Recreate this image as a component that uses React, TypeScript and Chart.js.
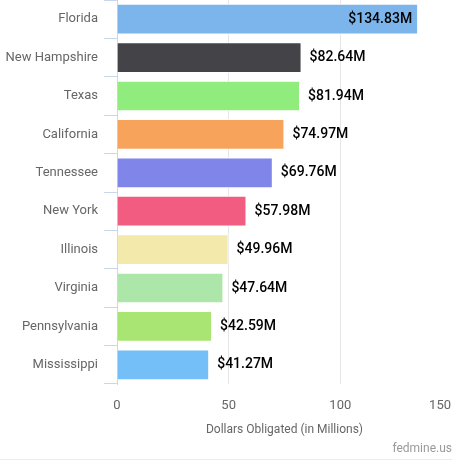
import React, { useEffect, useRef } from "react";
import { Chart, registerables } from "chart.js";

Chart.register(...registerables);

const states = [
  "Florida",
  "New Hampshire",
  "Texas",
  "California",
  "Tennessee",
  "New York",
  "Illinois",
  "Virginia",
  "Pennsylvania",
  "Mississippi",
];

const obligated = [134.83, 82.64, 81.94, 74.97, 69.76, 57.98, 49.96, 47.64, 42.59, 41.27];

const barColors = [
  "#7cb5ec",
  "#434348",
  "#90ed7d",
  "#f7a35c",
  "#8085e9",
  "#f15c80",
  "#f2e9aa",
  "#ace6a8",
  "#a8e573",
  "#74bff7",
];

const xTicks = [0, 50, 100, 150];

const FONT = "Roboto, 'Noto Sans', Arial, sans-serif";

const valueLabels = {
  id: "valueLabels",
  afterDatasetsDraw(chart: any) {
    const { ctx, chartArea } = chart;
    const meta = chart.getDatasetMeta(0);
    ctx.save();
    ctx.font = `500 14px ${FONT}`;
    ctx.textBaseline = "middle";
    ctx.fillStyle = "#000000";
    meta.data.forEach((bar: any, i: number) => {
      const text = "$" + obligated[i].toFixed(2) + "M";
      const w = ctx.measureText(text).width;
      const { x, y } = bar.getProps(["x", "y"], true);
      if (x + 8 + w > chartArea.right) {
        ctx.textAlign = "right";
        ctx.fillText(text, x - 6, y);
      } else {
        ctx.textAlign = "left";
        ctx.fillText(text, x + 8, y);
      }
    });
    ctx.restore();
  },
};

const justifyLastTick = {
  id: "justifyLastTick",
  beforeDraw(chart: any) {
    const sc: any = chart.scales.x;
    if (!sc || typeof sc.getLabelItems !== "function") return;
    const items = sc.getLabelItems(chart.chartArea);
    const last = items && items[items.length - 1];
    if (!last || !last.options || !last.options.translation) return;
    const ctx = chart.ctx;
    ctx.save();
    ctx.font = last.font.string;
    const w = ctx.measureText(String(last.label)).width;
    ctx.restore();
    const edge = chart.width - 1;
    if (last.options.translation[0] + w / 2 > edge) {
      last.options.textAlign = "right";
      last.options.translation[0] = edge;
    }
  },
};

export default function App() {
  const ref = useRef<HTMLCanvasElement | null>(null);

  useEffect(() => {
    if (!ref.current) return;
    const chart = new Chart(ref.current, {
      type: "bar",
      data: {
        labels: states,
        datasets: [
          {
            data: obligated,
            backgroundColor: barColors,
            borderColor: "#ffffff",
            borderWidth: 1,
            categoryPercentage: 0.8,
            barPercentage: 1,
          },
        ],
      },
      options: {
        indexAxis: "y",
        animation: false,
        responsive: true,
        maintainAspectRatio: false,
        layout: { padding: 0 },
        plugins: {
          legend: { display: false },
          title: { display: false },
          tooltip: { enabled: false },
          subtitle: {
            display: true,
            text: "fedmine.us",
            position: "bottom",
            align: "end",
            color: "#999999",
            font: { family: FONT, size: 12, weight: "normal" },
            padding: { top: 0, bottom: 3 },
          },
        },
        scales: {
          x: {
            type: "linear",
            min: 0,
            max: 150,
            afterBuildTicks: (scale: any) => {
              scale.ticks = xTicks.map((v) => ({ value: v }));
            },
            afterFit: (scale: any) => {
              scale.height = 57.6;
              scale.paddingLeft = 0;
              scale.paddingRight = 0;
            },
            border: { display: false },
            grid: {
              display: true,
              drawTicks: false,
              color: (c: any) => (c.tick && c.tick.value === 0 ? "rgba(0,0,0,0)" : "#e6e6e6"),
              lineWidth: 1,
            },
            ticks: {
              color: "#666666",
              font: { family: FONT, size: 13 },
              padding: 14,
              maxRotation: 0,
            },
            title: {
              display: true,
              text: "Dollars Obligated (in Millions)",
              color: "#666666",
              font: { family: FONT, size: 12 },
              padding: { top: 4, bottom: 4 },
            },
          },
          y: {
            afterFit: (scale: any) => {
              scale.width = 117;
              scale.paddingTop = 0;
              scale.paddingBottom = 0;
            },
            border: { display: true, color: "#ccd6eb", width: 1 },
            grid: {
              display: true,
              drawOnChartArea: false,
              drawTicks: true,
              tickLength: 13,
              color: "#ccd6eb",
              offset: true,
            },
            ticks: {
              color: "#666666",
              font: { family: FONT, size: 13 },
              padding: 6,
            },
          },
        },
      },
      plugins: [valueLabels, justifyLastTick],
    });
    return () => chart.destroy();
  }, []);

  return (
    <div
      style={{
        position: "absolute",
        left: 0,
        top: 0,
        width: 452,
        height: 459,
        borderBottom: "1px solid #ececec",
        background: "#ffffff",
      }}
    >
      <canvas ref={ref} />
    </div>
  );
}
